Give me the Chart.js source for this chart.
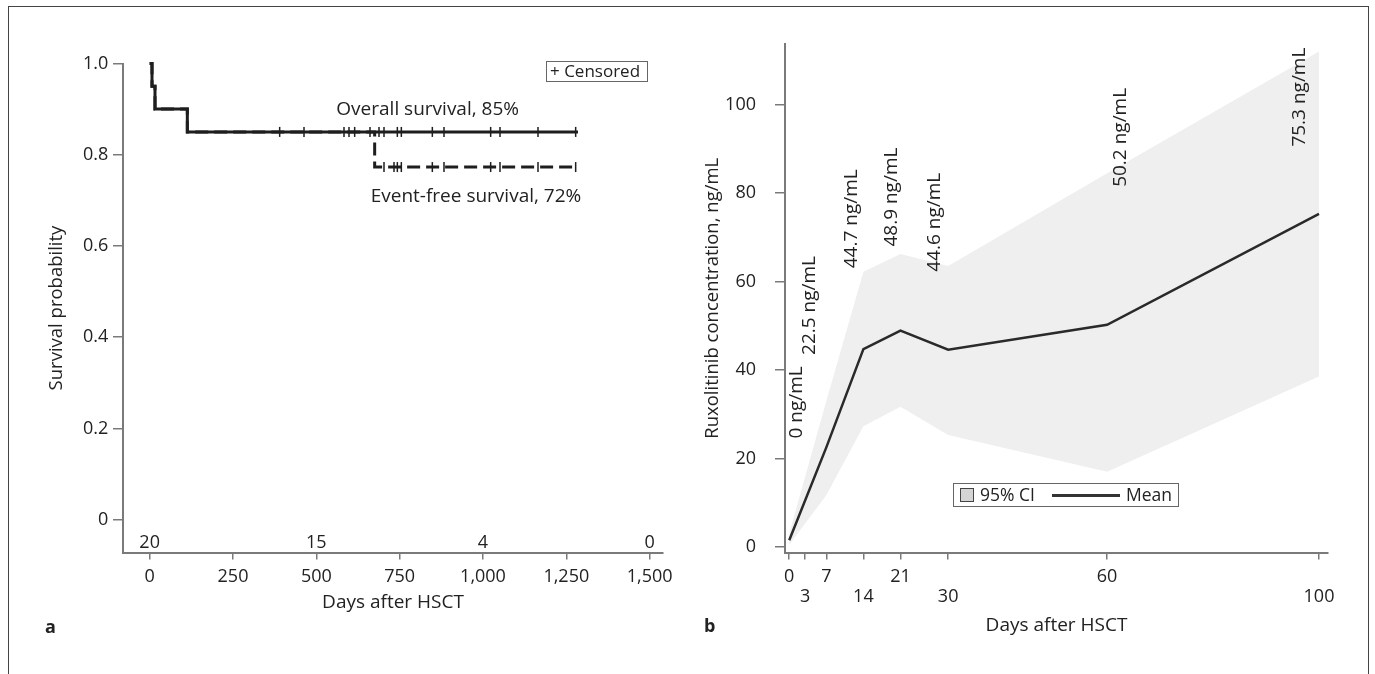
<!DOCTYPE html>
<html>
<head>
<meta charset="utf-8">
<script src="https://cdn.jsdelivr.net/npm/chart.js@4.4.1/dist/chart.umd.min.js"></script>
<style>
  body { margin: 0; background: #fff; font-family: 'Open Sans', sans-serif; color: #222; }
  #frame { position: absolute; left: 8px; top: 6px; width: 1361px; height: 720px; border: 1.5px solid #444; box-sizing: border-box; }
  canvas { position: absolute; top: 0; }
  .tag { position: absolute; font-weight: bold; font-size: 18px; line-height: 24px; }
  .legend { position: absolute; border: 1.5px solid #666; box-sizing: border-box; background: #fff; }
  .legend span { position: absolute; white-space: nowrap; line-height: 20px; }
</style>
</head>
<body>
<div id="frame"></div>
<canvas id="km" width="690" height="674" style="left:0"></canvas>
<canvas id="pk" width="685" height="674" style="left:690px"></canvas>

<div class="tag" style="left:45px; top:614px">a</div>
<div class="tag" style="left:704px; top:613px">b</div>

<div class="legend" style="left:546px; top:61px; width:102px; height:21px">
  <span style="left:3px; top:-1px; font-size:17px">+ Censored</span>
</div>

<div class="legend" style="left:953px; top:483px; width:226px; height:24px">
  <span style="left:6px; top:4px; width:12px; height:12px; background:#d4d4d4; border:1.2px solid #444"></span>
  <span style="left:26px; top:0px; font-size:17.5px">95% CI</span>
  <span style="left:98px; top:10px; width:68px; height:3px; background:#333"></span>
  <span style="left:172px; top:0px; font-size:17.5px">Mean</span>
</div>

<script>
// panel a: Kaplan-Meier
const osDays = [0, 7, 16, 113, 1285];
const osSurv = [1, 0.95, 0.90, 0.85, 0.85];
const efsDays = [0, 7, 16, 113, 675, 1285];
const efsSurv = [1, 0.95, 0.90, 0.85, 0.773, 0.773];
const osCensorDays = [390, 463, 583, 598, 615, 661, 688, 703, 743, 755, 848, 883, 1023, 1051, 1165, 1278];
const efsCensorDays = [703, 733, 743, 755, 848, 883, 1023, 1051, 1165, 1278];
const riskDays = [0, 500, 1000, 1500];
const riskCounts = [20, 15, 4, 0];
const kmTicksX = [0, 250, 500, 750, 1000, 1250, 1500];
const kmTicksY = [0, 0.2, 0.4, 0.6, 0.8, 1.0];

// panel b: ruxolitinib concentration
const pkDays = [0, 7, 14, 21, 30, 60, 100];
const pkMean = [1.5, 22.5, 44.7, 48.9, 44.6, 50.2, 75.3];
const pkUpper = [3, 33, 62.2, 66.2, 63.5, 84.5, 112];
const pkLower = [0.5, 11.7, 27.3, 31.7, 25.3, 17.0, 38.5];
const pkLabels = ['0 ng/mL', '22.5 ng/mL', '44.7 ng/mL', '48.9 ng/mL', '44.6 ng/mL', '50.2 ng/mL', '75.3 ng/mL'];
const pkTicksX = [0, 3, 7, 14, 21, 30, 60, 100];
const pkTicksY = [0, 20, 40, 60, 80, 100];

// where the text notes sit (day, value)
const kmNotes = [
  { text: 'Overall survival, 85%', at: [834, 0.899] },
  { text: 'Event-free survival, 72%', at: [979, 0.709] }
];
const pkLabelAt = [[1.4, 24.5], [3.9, 43.4], [11.75, 63], [19.3, 67.9], [27.5, 62.2], [62.6, 81.4], [96.3, 90.5]];

Chart.defaults.font.family = "'Open Sans', sans-serif";
Chart.defaults.color = '#222';

const axisColor = '#7a7a7a';
const inkColor = '#1e1e1e';

const pts = (xs, ys) => xs.map((x, i) => ({ x: x, y: ys[i] }));
function levelAt(days, surv, t) {
  let v = surv[0];
  days.forEach((d, i) => { if (d <= t) v = surv[i]; });
  return v;
}

const kmText = {
  id: 'kmText',
  afterDatasetsDraw(chart) {
    const { ctx, scales: { x, y } } = chart;
    ctx.save();
    ctx.fillStyle = '#222';
    ctx.textAlign = 'center';
    ctx.textBaseline = 'middle';
    ctx.font = "18px 'Open Sans'";
    riskDays.forEach((d, i) => {
      ctx.fillText(String(riskCounts[i]), x.getPixelForValue(d), y.getPixelForValue(-0.05));
    });
    ctx.font = "19px 'Open Sans'";
    kmNotes.forEach(n => {
      ctx.fillText(n.text, x.getPixelForValue(n.at[0]), y.getPixelForValue(n.at[1]));
    });
    ctx.restore();
  }
};

new Chart(document.getElementById('km'), {
  type: 'line',
  data: {
    datasets: [
      {
        data: pts(osCensorDays, osCensorDays.map(d => levelAt(osDays, osSurv, d))),
        showLine: false, pointStyle: 'line', rotation: 90, pointRadius: 5,
        borderColor: inkColor, borderWidth: 1.5, clip: false
      },
      {
        data: pts(efsCensorDays, efsCensorDays.map(d => levelAt(efsDays, efsSurv, d))),
        showLine: false, pointStyle: 'line', rotation: 90, pointRadius: 5,
        borderColor: inkColor, borderWidth: 1.5, clip: false
      },
      {
        data: pts(osDays, osSurv), stepped: 'before',
        borderColor: inkColor, borderWidth: 3, pointRadius: 0, clip: false
      },
      {
        data: pts(efsDays, efsSurv), stepped: 'before', borderDash: [13, 6],
        borderColor: inkColor, borderWidth: 3, pointRadius: 0, clip: false
      }
    ]
  },
  options: {
    responsive: false,
    animation: false,
    layout: { padding: { left: 0, right: 27, top: 63.5, bottom: 0 } },
    plugins: { legend: { display: false }, tooltip: { enabled: false } },
    scales: {
      x: {
        type: 'linear', min: -80, max: 1540,
        afterBuildTicks: s => { s.ticks = kmTicksX.map(v => ({ value: v })); },
        afterFit: s => { s.height = 121.5; },
        grid: { drawOnChartArea: false, drawTicks: true, tickLength: 7, color: axisColor, lineWidth: 1.5 },
        border: { display: true, color: axisColor, width: 2 },
        ticks: { autoSkip: false, maxRotation: 0, padding: 6.5, font: { size: 18 }, color: '#222',
                 callback: v => v.toLocaleString('en-US') },
        title: { display: true, text: 'Days after HSCT', font: { size: 19 }, color: '#222', padding: { top: 0, bottom: 59.6 } }
      },
      y: {
        type: 'linear', min: -0.072, max: 1.0,
        afterBuildTicks: s => { s.ticks = kmTicksY.map(v => ({ value: v })); },
        afterFit: s => { s.width = 123; },
        grid: { drawOnChartArea: false, drawTicks: true, tickLength: 10, color: axisColor, lineWidth: 1.5 },
        border: { display: true, color: axisColor, width: 2 },
        ticks: { autoSkip: false, padding: 4.7, font: { size: 18 }, color: '#222',
                 callback: v => (v === 0 ? '0' : v.toFixed(1)) },
        title: { display: true, text: 'Survival probability', font: { size: 18.5 }, color: '#222', padding: { top: 45.3, bottom: 0 } }
      }
    }
  },
  plugins: [kmText]
});

const pkText = {
  id: 'pkText',
  afterDatasetsDraw(chart) {
    const { ctx, scales: { x, y } } = chart;
    ctx.save();
    ctx.fillStyle = '#222';
    ctx.font = "19px 'Open Sans'";
    ctx.textAlign = 'left';
    ctx.textBaseline = 'middle';
    pkLabels.forEach((t, i) => {
      ctx.save();
      ctx.translate(x.getPixelForValue(pkLabelAt[i][0]), y.getPixelForValue(pkLabelAt[i][1]));
      ctx.rotate(-Math.PI / 2);
      ctx.fillText(t, 0, 0);
      ctx.restore();
    });
    ctx.restore();
  }
};

new Chart(document.getElementById('pk'), {
  type: 'line',
  data: {
    datasets: [
      { data: pts(pkDays, pkMean), borderColor: '#2a2a2a', borderWidth: 2.5, pointRadius: 0, tension: 0 },
      { data: pts(pkDays, pkUpper), fill: '+1', backgroundColor: '#efefef',
        borderColor: 'rgba(0,0,0,0)', borderWidth: 0, pointRadius: 0 },
      { data: pts(pkDays, pkLower), fill: false,
        borderColor: 'rgba(0,0,0,0)', borderWidth: 0, pointRadius: 0 }
    ]
  },
  options: {
    responsive: false,
    animation: false,
    layout: { padding: { left: 0, right: 47, top: 44, bottom: 0 } },
    plugins: { legend: { display: false }, tooltip: { enabled: false } },
    scales: {
      x: {
        type: 'linear', min: -0.8, max: 101.7,
        afterBuildTicks: s => { s.ticks = pkTicksX.map(v => ({ value: v })); },
        afterFit: s => { s.height = 121.5; },
        grid: { drawOnChartArea: false, drawTicks: true, tickLength: 7, color: axisColor, lineWidth: 1.5 },
        border: { display: true, color: axisColor, width: 2 },
        ticks: { autoSkip: false, maxRotation: 0, padding: 7.6, font: { size: 18, lineHeight: 1.1 }, color: '#222',
                 callback: v => (pkTicksX.indexOf(v) % 2 ? ['', String(v)] : String(v)) },
        title: { display: true, text: 'Days after HSCT', font: { size: 19 }, color: '#222', padding: { top: 0, bottom: 37.1 } }
      },
      y: {
        type: 'linear', min: -1.27, max: 113.7,
        afterBuildTicks: s => { s.ticks = pkTicksY.map(v => ({ value: v })); },
        afterFit: s => { s.width = 95; },
        grid: { drawOnChartArea: false, drawTicks: true, tickLength: 10, color: axisColor, lineWidth: 1.5 },
        border: { display: true, color: axisColor, width: 2 },
        ticks: { autoSkip: false, padding: 19, font: { size: 18 }, color: '#222' },
        title: { display: true, text: 'Ruxolitinib concentration, ng/mL', font: { size: 18.5 }, color: '#222', padding: { top: 11.9, bottom: 0 } }
      }
    }
  },
  plugins: [pkText]
});
</script>
</body>
</html>
